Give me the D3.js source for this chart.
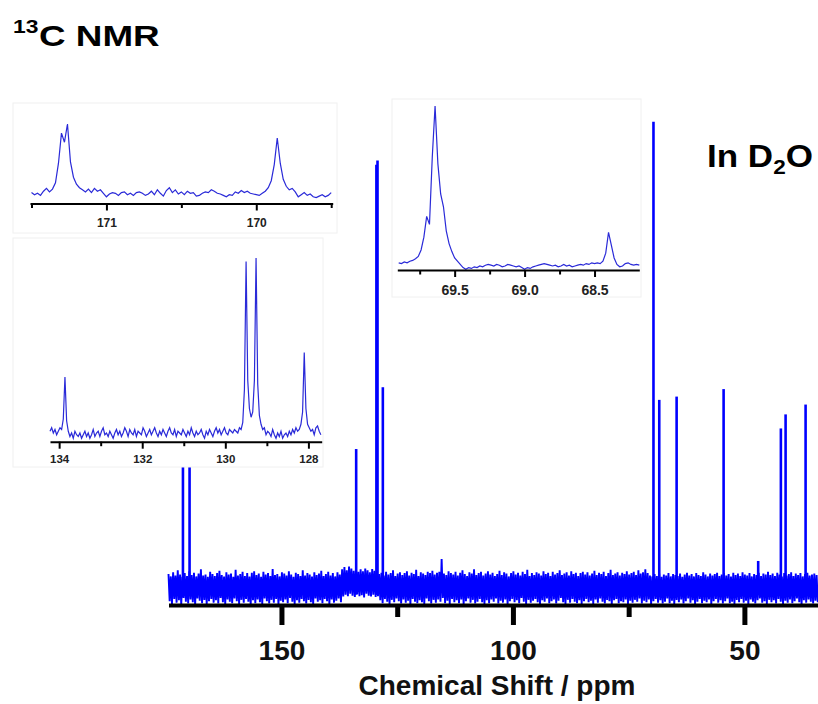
<!DOCTYPE html>
<html>
<head>
<meta charset="utf-8">
<script src="https://cdn.jsdelivr.net/npm/d3@7"></script>
<style>
  html, body { margin: 0; padding: 0; background: #fff; }
  svg { display: block; font-family: "Liberation Sans", Arial, sans-serif; }
</style>
</head>
<body>
<svg id="chart"></svg>
<script>
// 13C NMR spectrum in D2O, with three zoomed insets

// ---- Main spectrum data ----
// peak list: chemical shift (ppm) and relative height (tallest = 100)
const mainPeakPpm = [171.28, 169.85, 133.86, 129.49, 129.25, 128.10, 69.64, 68.39, 64.64, 54.49, 47.02, 42.12, 41.10, 36.78];
const mainPeakInt = [28, 28, 30.1, 90.8, 91.7, 43.3, 100, 40.6, 41.3, 42.9, 6.2, 34.5, 37.5, 39.6];

// baseline noise, sampled every 0.5 ppm from 174.4 ppm (upper and lower swing of each sample)
const noiseStart = 174.4;
const noiseStep = 0.5;
const noiseHigh = [
  3.4, 2.9, 3.8, 3.1, 4.2, 3.3, 2.8, 3.6, 3.0, 4.0, 3.2, 3.7, 2.9, 3.5, 4.4, 3.1, 3.3, 2.8, 3.9, 3.4,
  3.0, 3.6, 4.1, 3.2, 2.9, 3.8, 3.3, 3.5, 2.8, 4.3, 3.1, 3.4, 3.9, 3.0, 3.6, 2.9, 3.7, 4.0, 3.2, 3.5,
  2.8, 3.9, 3.3, 3.6, 3.0, 4.5, 3.2, 3.4, 2.9, 3.8, 3.5, 3.1, 4.0, 3.3, 2.8, 3.7, 3.4, 3.0, 4.2, 3.1,
  3.6, 3.3, 2.9, 3.8, 3.2, 3.5, 4.1, 3.0, 3.4, 3.9, 3.1, 3.6, 2.9, 3.8, 3.3, 4.4, 4.9, 4.2, 5.0, 4.6,
  4.1, 4.7, 3.9, 4.4, 4.0, 4.6, 4.2, 3.8, 4.5, 4.1, 3.9, 3.4, 3.7, 3.1, 3.9, 3.3, 3.6, 4.2, 3.0, 3.5,
  3.8, 3.2, 3.6, 4.0, 3.1, 3.7, 3.4, 4.3, 3.0, 3.8, 3.5, 3.2, 3.9, 3.6, 4.1, 3.3, 3.7, 3.9, 6.6, 3.5,
  3.2, 4.0, 3.6, 3.3, 3.9, 3.1, 3.7, 4.2, 3.4, 3.0, 3.8, 3.5, 4.4, 3.2, 3.6, 3.9, 3.1, 3.5, 4.0, 3.3,
  3.7, 3.0, 3.4, 4.1, 3.2, 3.8, 3.5, 2.9, 3.6, 4.0, 3.3, 3.7, 3.1, 3.9, 3.4, 4.3, 3.0, 3.6, 3.2, 3.8,
  3.5, 3.1, 4.0, 3.4, 3.7, 3.0, 3.9, 3.3, 3.6, 4.2, 3.2, 3.5, 3.8, 3.1, 4.0, 3.4, 3.7, 3.0, 3.6, 3.9,
  3.3, 3.8, 3.1, 3.5, 4.1, 3.2, 3.7, 3.4, 3.9, 3.0, 3.6, 4.3, 3.2, 3.5, 3.8, 3.1, 3.7, 3.4, 4.0, 3.3,
  3.6, 3.9, 3.2, 4.2, 3.5, 3.8, 4.4, 3.6, 3.1, 2.9, 3.4, 3.0, 3.5, 2.8, 3.3, 3.1, 3.6, 2.9, 3.4, 3.2,
  3.0, 3.5, 2.8, 3.3, 3.7, 3.1, 3.4, 2.9, 3.6, 3.2, 3.0, 3.8, 3.3, 2.9, 3.5, 3.1, 3.4, 3.7, 3.0, 3.3,
  3.6, 3.1, 3.4, 2.9, 3.7, 3.2, 3.5, 3.0, 3.8, 3.3, 3.1, 3.6, 2.9, 3.4, 3.2, 3.7, 3.0, 3.5, 3.3, 3.9,
  3.2, 3.5, 3.0, 3.7, 3.3, 2.9, 3.6, 3.1, 3.4, 3.8, 3.0, 3.5, 3.2, 3.6, 2.9, 3.4, 3.7, 3.1, 3.3, 3.5,
  3.2
];
const noiseLow = [
  -2.4, -3.0, -1.9, -2.7, -2.2, -3.1, -1.7, -2.5, -2.9, -2.0, -2.6, -3.2, -1.8, -2.3, -2.8, -2.1, -3.0, -2.4, -1.9, -2.7,
  -2.2, -2.9, -1.7, -2.6, -3.1, -2.0, -2.5, -2.8, -1.8, -2.4, -3.0, -2.1, -2.7, -1.9, -2.5, -3.2, -2.2, -2.8, -2.0, -2.6,
  -3.0, -1.8, -2.4, -2.9, -2.1, -2.7, -1.9, -3.1, -2.3, -2.6, -2.0, -2.8, -1.7, -2.5, -3.0, -2.2, -2.7, -1.9, -2.4, -2.9,
  -2.1, -2.6, -3.0, -1.8, -2.5, -2.2, -2.8, -1.9, -2.4, -3.1, -2.0, -2.7, -2.3, -1.8, -2.6, -1.4, -1.0, -1.3, -0.8, -1.2,
  -1.5, -0.9, -1.3, -1.1, -1.6, -0.8, -1.2, -1.4, -1.0, -1.5, -1.3, -2.2, -2.8, -1.9, -2.5, -3.0, -2.1, -2.6, -1.8, -2.4,
  -2.9, -2.0, -2.7, -2.3, -3.1, -1.9, -2.5, -2.8, -2.2, -2.6, -3.0, -1.8, -2.4, -2.9, -2.1, -2.7, -2.0, -2.5, -1.7, -2.8,
  -2.3, -3.0, -1.9, -2.6, -2.2, -2.8, -2.0, -3.1, -2.4, -1.8, -2.7, -2.1, -2.9, -2.5, -1.9, -2.6, -3.0, -2.2, -2.8, -2.0,
  -2.5, -1.8, -2.9, -2.3, -2.7, -2.0, -3.1, -2.4, -1.9, -2.6, -2.2, -2.8, -1.7, -2.5, -3.0, -2.1, -2.7, -2.3, -1.9, -2.6,
  -3.0, -2.2, -2.5, -1.8, -2.8, -2.4, -2.0, -2.9, -2.3, -1.7, -2.6, -3.1, -2.1, -2.7, -1.9, -2.5, -2.8, -2.2, -3.0, -2.4,
  -1.9, -2.6, -2.3, -3.0, -2.0, -2.7, -1.8, -2.5, -2.9, -2.1, -2.4, -3.1, -2.2, -1.9, -2.8, -2.4, -2.6, -2.0, -3.0, -2.3,
  -2.7, -2.1, -2.5, -1.8, -2.9, -2.3, -2.6, -2.0, -3.1, -2.4, -1.9, -2.7, -2.2, -2.9, -2.5, -1.8, -2.8, -2.3, -3.0, -2.1,
  -2.6, -2.0, -2.9, -2.4, -1.8, -2.7, -2.2, -3.0, -2.5, -1.9, -2.8, -2.3, -2.6, -2.0, -3.1, -2.4, -1.9, -2.7, -2.2, -2.9,
  -2.4, -1.8, -2.8, -2.5, -3.0, -2.1, -2.6, -1.9, -2.7, -2.3, -3.1, -2.0, -2.5, -2.9, -2.2, -1.8, -2.7, -2.4, -3.0, -2.1,
  -2.6, -2.2, -2.9, -1.9, -2.5, -3.0, -2.3, -2.7, -2.0, -2.8, -2.4, -1.8, -2.6, -3.1, -2.2, -2.7, -2.0, -2.5, -2.9, -2.3,
  -2.6
];
const mainTicks = [150, 100, 50];
const mainMinorTicks = [125, 75];

// ---- Inset 1: carbonyl region, every 0.02 ppm from 171.50 ----
const inset1Start = 171.50;
const inset1Step = 0.02;
const inset1Int = [
  2, -1, 1, -2, 4, 8, 3, 7, 16, 44,
  87, 74, 100, 46, 24, 14, 9, 6, 3, 7,
  2, 8, 4, 6, 1, -4, 0, 2, 1, -2,
  2, 3, -1, 1, -2, 2, 3, 1, -2, 0,
  4, -1, 6, 1, -3, 5, 9, 2, 6, 0,
  3, -1, 4, 1, 2, -3, -2, 1, 3, 2,
  6, 4, 1, 0, -2, -4, -1, -2, 3, 1,
  5, 2, 4, 1, 0, -1, -2, 1, 4, 9,
  19, 42, 80, 44, 21, 11, 6, 8, 3, -4,
  -1, 2, -2, 0, -4, -5, -3, -1, -4, -2,
  2
];
const inset1Ticks = [171, 170];
const inset1Minor = [171.5, 170.5, 169.5];

// ---- Inset 2: aromatic region, every 0.04 ppm from 134.22 ----
const inset2Start = 134.22;
const inset2Step = 0.04;
const inset2Int = [
  1, 3, 0, 2, -1, 1, 3, 2, 8, 32,
  7, 1, -2, 0, -3, 1, -1, -2, 0, -3,
  -1, 1, -2, 0, -3, -1, 2, -2, 0, 1,
  -2, 1, 3, -1, 0, -2, 1, -1, -3, 0,
  2, -1, 1, -2, 0, 3, 1, -2, 2, 0,
  -1, 2, -2, 1, 0, -1, 3, 1, -2, 0,
  2, -1, 1, 3, 0, -2, 1, -1, 2, 0,
  -2, 1, 3, 0, -1, 2, -2, 1, 0, -1,
  2, 0, -2, 1, -1, 3, 0, -2, 1, -1,
  0, 2, -1, -3, 1, -1, 2, 0, -2, 1,
  3, 0, 2, -1, 1, 3, 0, -1, 2, 1,
  0, 2, 1, 0, 3, 2, 6, 25, 98, 30,
  14, 9, 12, 30, 100, 28, 10, 5, 2, 3,
  -1, 1, 0, -2, 2, -1, -3, 0, -2, 1,
  -3, -1, 0, -2, 1, -1, 2, 0, 3, 1,
  2, 5, 12, 46, 14, 5, 3, 1, 2, -1,
  3, 4, 1, -1
];
const inset2Ticks = [134, 132, 130, 128];
const inset2Minor = [133, 131, 129];

// ---- Inset 3: 69 ppm region, every 0.02 ppm from 69.90 ----
const inset3Start = 69.90;
const inset3Step = 0.02;
const inset3Int = [
  2, 1.5, 2.5, 2, 3, 3.5, 4.5, 6, 10, 18,
  31, 26, 68, 100, 64, 45, 37, 22, 14, 9,
  5, 3, 1, -1, -2, -1, -1.5, -0.5, -1, 0,
  -0.5, 0.5, 1, 0.5, 0, 1, 0.5, -0.5, 0, 1,
  0.5, 0, -0.5, 0, -1, -2, -1, -1.5, -0.5, 0,
  0.5, 1, 1.5, 1, 0.5, 0, 0.5, -0.5, 0, 1,
  0, 0.5, -0.5, 0, 0.5, 1, 0.5, 1.5, 1, 2,
  1.5, 2, 1.5, 3, 8, 21, 13, 5, 1, -0.5,
  0, 1.5, 2, 1, 0.5, 1, 0.5
];
const inset3Ticks = [69.5, 69.0, 68.5];
const inset3Minor = [69.75, 69.25, 68.75];

// ---- Layout ----
const width = 818;
const height = 704;
const axisY = 605;
const mainBlue = "#0000ff";
const insetBlue = "#2a2ad8";

const svg = d3.select("#chart")
  .attr("width", width)
  .attr("height", height)
  .attr("viewBox", [0, 0, width, height]);

// Scales (NMR axis runs right to left)
const x = d3.scaleLinear().domain([174.4, 34.1]).range([168.5, 818]);
const y = d3.scaleLinear().domain([0, 100]).range([590, 121.7]);

// Noise band: each sample swings up to its high value, then down to its low value
const noisePts = [];
noiseHigh.forEach((h, i) => {
  const p = noiseStart - i * noiseStep;
  noisePts.push([p, h]);
  noisePts.push([p - noiseStep / 2, noiseLow[i]]);
});

const mainLine = d3.line().x(d => x(d[0])).y(d => y(d[1]));

svg.append("path")
  .datum(noisePts)
  .attr("d", mainLine)
  .attr("fill", "none")
  .attr("stroke", mainBlue)
  .attr("stroke-width", 1.9)
  .attr("stroke-linejoin", "bevel");

// Peaks as sharp lines from the baseline
svg.selectAll(".peak")
  .data(mainPeakPpm)
  .join("line")
  .attr("class", "peak")
  .attr("x1", d => x(d))
  .attr("x2", d => x(d))
  .attr("y1", y(-1))
  .attr("y2", (d, i) => y(mainPeakInt[i]))
  .attr("stroke", mainBlue)
  .attr("stroke-width", 2.6);

// Main axis
const mainAxis = svg.append("g")
  .attr("transform", `translate(0,${axisY})`)
  .call(d3.axisBottom(x)
    .tickValues(mainTicks)
    .tickSize(20)
    .tickSizeOuter(0)
    .tickPadding(15)
    .tickFormat(d3.format("d")));
mainAxis.select(".domain").attr("stroke", "#000").attr("stroke-width", 4);
mainAxis.selectAll(".tick line").attr("stroke", "#000").attr("stroke-width", 5);
mainAxis.selectAll(".tick text")
  .attr("fill", "#111")
  .attr("font-size", 28)
  .attr("font-weight", "bold")
  .attr("font-family", "'Liberation Sans', Arial, sans-serif");

const mainMinor = svg.append("g")
  .attr("transform", `translate(0,${axisY})`)
  .call(d3.axisBottom(x).tickValues(mainMinorTicks).tickSize(12).tickSizeOuter(0).tickFormat(""));
mainMinor.select(".domain").remove();
mainMinor.selectAll(".tick line").attr("stroke", "#000").attr("stroke-width", 5);

svg.append("text")
  .attr("x", 497)
  .attr("y", 695)
  .attr("text-anchor", "middle")
  .attr("font-size", 28)
  .attr("font-weight", "bold")
  .attr("fill", "#111")
  .text("Chemical Shift / ppm");

// Insets
function drawInset(opt) {
  const g = svg.append("g");

  g.append("rect")
    .attr("x", opt.box[0])
    .attr("y", opt.box[1])
    .attr("width", opt.box[2] - opt.box[0])
    .attr("height", opt.box[3] - opt.box[1])
    .attr("fill", "#fff")
    .attr("stroke", "#f0f0f0");

  const xs = d3.scaleLinear().domain(opt.domain).range(opt.xRange);
  const ys = d3.scaleLinear().domain([0, 100]).range(opt.yRange);

  const pts = opt.values.map((v, i) => [opt.start - i * opt.step, v]);

  g.append("path")
    .datum(pts)
    .attr("d", d3.line().x(d => xs(d[0])).y(d => ys(d[1])))
    .attr("fill", "none")
    .attr("stroke", insetBlue)
    .attr("stroke-width", 1.2);

  const minor = g.append("g")
    .attr("transform", `translate(0,${opt.axisY})`)
    .call(d3.axisBottom(xs).tickValues(opt.minor).tickSize(4.5).tickSizeOuter(0).tickFormat(""));
  minor.select(".domain").remove();
  minor.selectAll(".tick line").attr("stroke", "#000").attr("stroke-width", 2);

  const major = g.append("g")
    .attr("transform", `translate(0,${opt.axisY})`)
    .call(d3.axisBottom(xs)
      .tickValues(opt.ticks)
      .tickSize(7)
      .tickSizeOuter(0)
      .tickPadding(opt.padding)
      .tickFormat(opt.format));
  major.select(".domain").attr("stroke", "#000").attr("stroke-width", 2);
  major.selectAll(".tick line").attr("stroke", "#000").attr("stroke-width", 2);
  major.selectAll(".tick text")
    .attr("fill", "#222")
    .attr("font-size", opt.fontSize)
    .attr("font-weight", "bold")
    .attr("font-family", "'Liberation Sans', Arial, sans-serif");
}

drawInset({
  box: [13, 103, 337, 233],
  domain: [171.51, 169.49], xRange: [30, 332.7], yRange: [194, 124],
  values: inset1Int, start: inset1Start, step: inset1Step,
  ticks: inset1Ticks, minor: inset1Minor, axisY: 203.5,
  padding: 8, fontSize: 12, format: d3.format("d")
});

drawInset({
  box: [13, 238, 323, 467],
  domain: [134.22, 127.68], xRange: [50, 321.7], yRange: [433, 258],
  values: inset2Int, start: inset2Start, step: inset2Step,
  ticks: inset2Ticks, minor: inset2Minor, axisY: 441.7,
  padding: 6, fontSize: 11.5, format: d3.format("d")
});

drawInset({
  box: [392, 99, 641, 297],
  domain: [69.91, 68.18], xRange: [397.3, 639.3], yRange: [266, 106],
  values: inset3Int, start: inset3Start, step: inset3Step,
  ticks: inset3Ticks, minor: inset3Minor, axisY: 270,
  padding: 8, fontSize: 14, format: d3.format(".1f")
});

// Titles (the original lettering is slightly stretched horizontally)
const title = svg.append("text")
  .attr("transform", "translate(13,46) scale(1.27,1)")
  .attr("font-weight", "bold")
  .attr("fill", "#000");
title.append("tspan")
  .attr("x", 0).attr("y", -13)
  .attr("font-size", 18)
  .text("13");
title.append("tspan")
  .attr("x", 20.5).attr("y", 0)
  .attr("font-size", 29)
  .text("C NMR");

const solvent = svg.append("text")
  .attr("transform", "translate(707,167) scale(1.13,1)")
  .attr("font-weight", "bold")
  .attr("font-size", 31)
  .attr("fill", "#000");
solvent.append("tspan").text("In D");
solvent.append("tspan").attr("dy", 7).attr("font-size", 20).text("2");
solvent.append("tspan").attr("dy", -7).text("O");
</script>
</body>
</html>
